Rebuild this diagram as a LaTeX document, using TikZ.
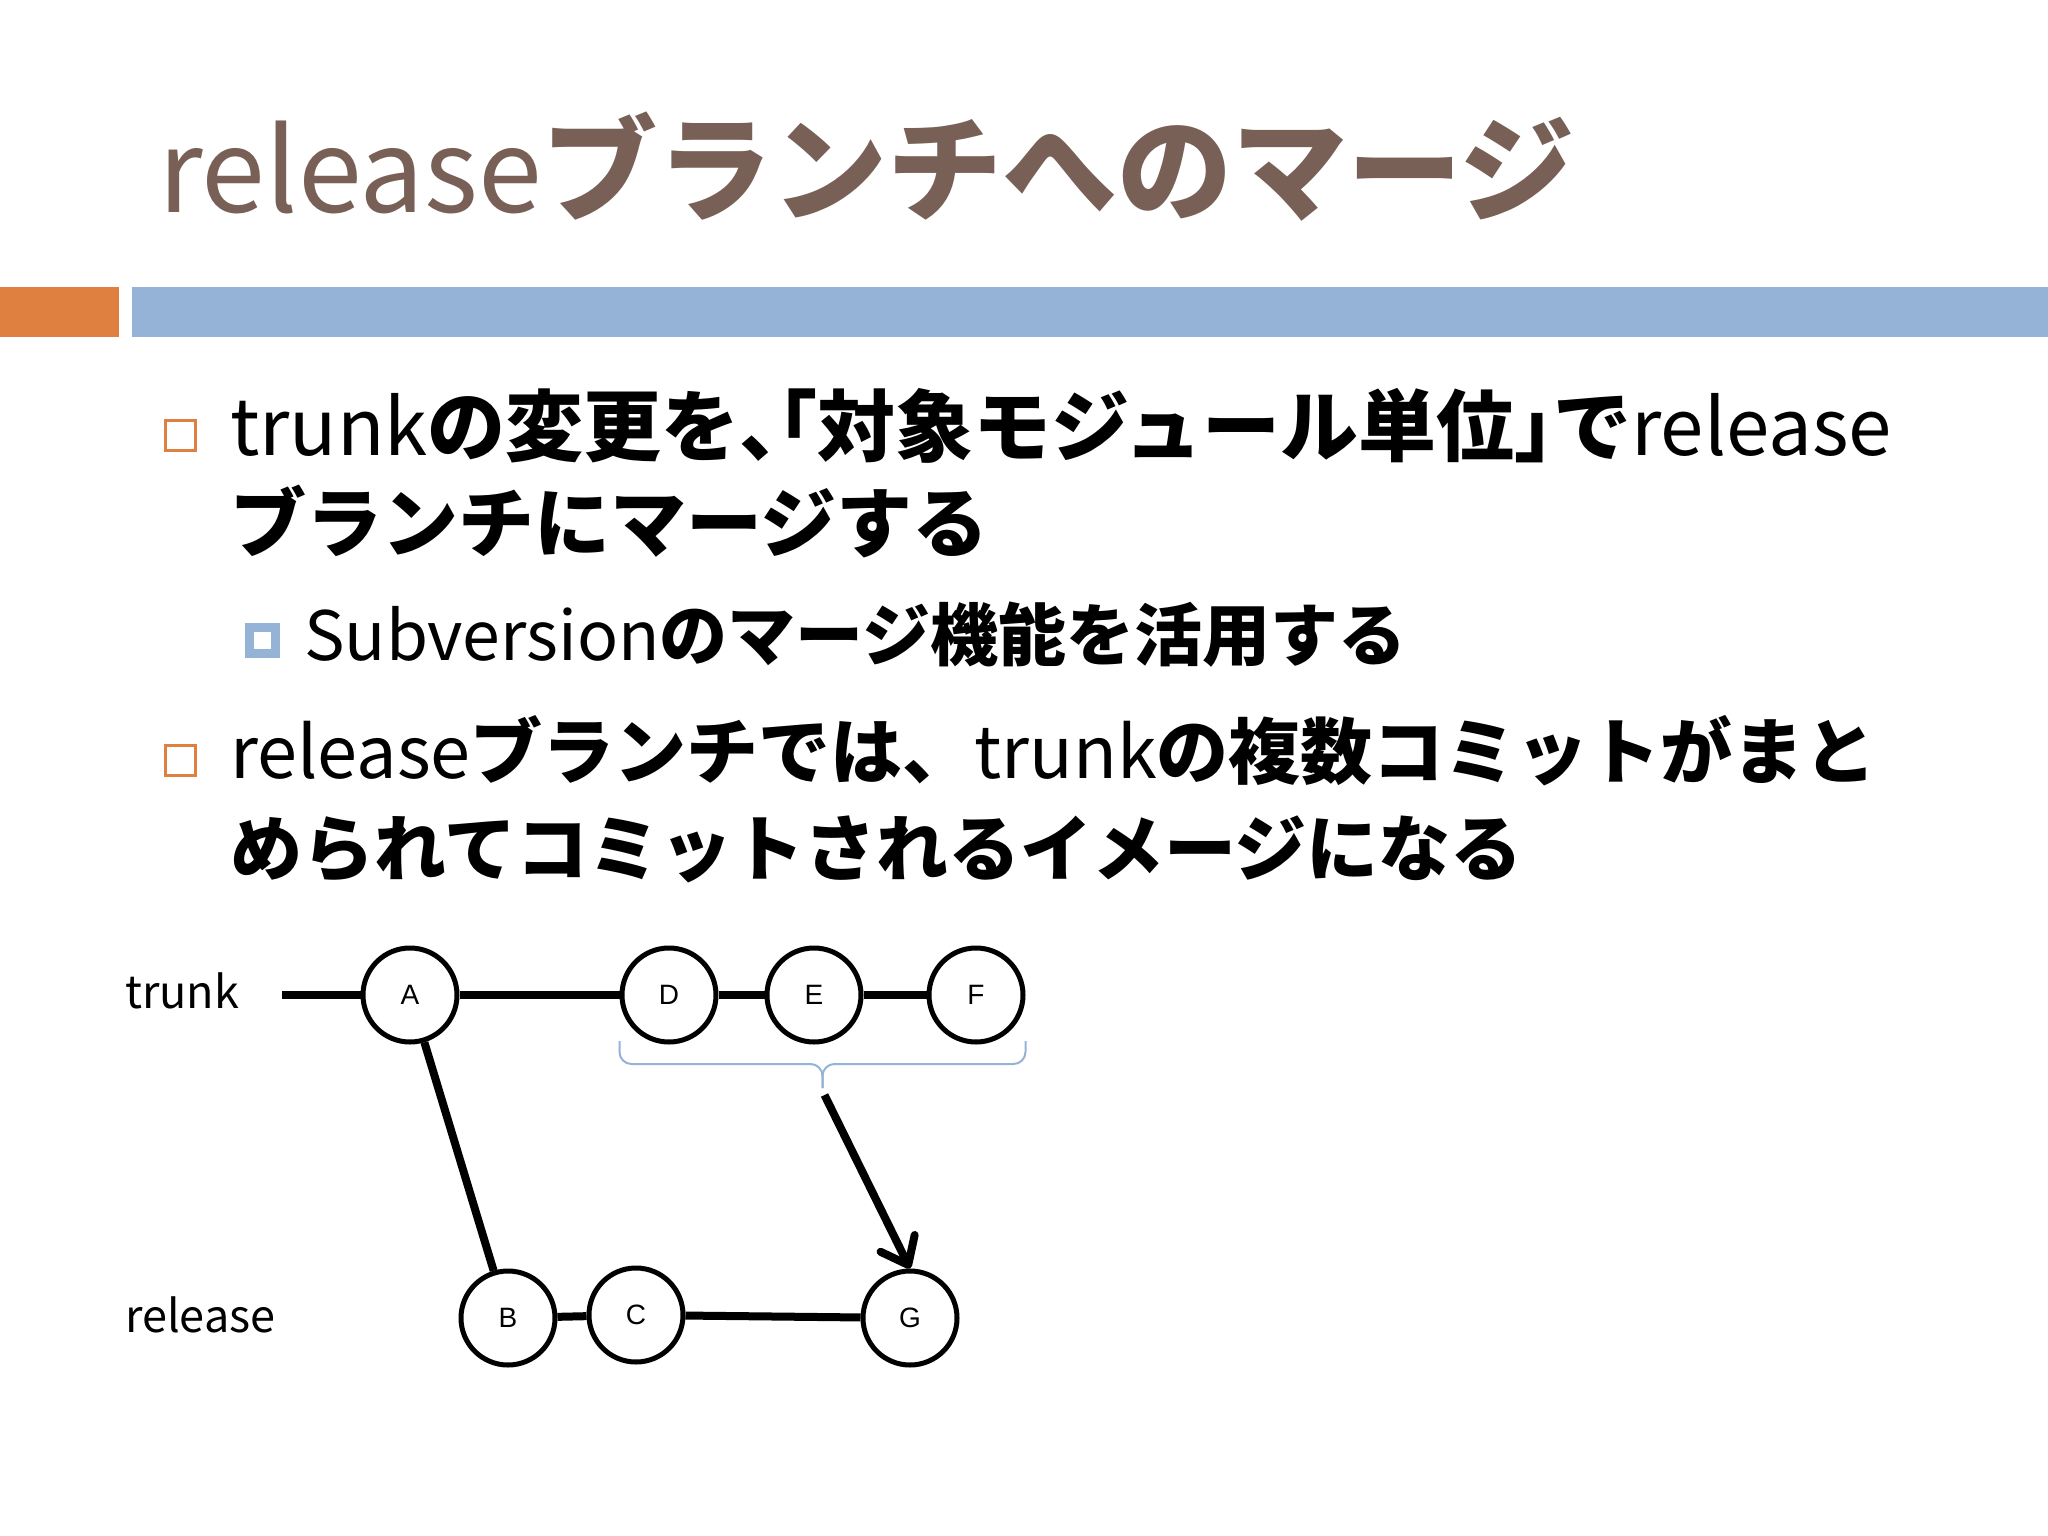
\documentclass[tikz,border=0pt]{standalone}
\usepackage{fontspec}
\setmainfont{Noto Sans CJK JP}[RawFeature=+halt]
\newfontfamily\helv{Liberation Sans}
\usetikzlibrary{arrows.meta,calc}
\definecolor{titlecol}{RGB}{120,96,86}
\definecolor{barorange}{RGB}{224,128,64}
\definecolor{barblue}{RGB}{149,179,215}
\begin{document}
\begin{tikzpicture}[x=1pt,y=-1pt,
  txtl/.style={anchor=base west, inner sep=0, font=\fontsize{78}{90}\selectfont},
  txta/.style={anchor=base west, inner sep=0, font=\fontsize{76}{90}\selectfont},
  txtb/.style={anchor=base west, inner sep=0, font=\fontsize{72}{86}\selectfont},
  subtxt/.style={anchor=base west, inner sep=0, font=\fontsize{68}{80}\selectfont},
  lbl/.style={anchor=base west, inner sep=0, font=\fontsize{45}{52}\selectfont},
  obullet/.style={draw=barorange, line width=3, fill=white, minimum size=30, inner sep=0},
  bbullet/.style={draw=barblue, line width=9, fill=white, minimum size=26, inner sep=0},
  commit/.style={circle, draw=black, line width=5, fill=white, minimum size=94, inner sep=0, font=\helv\fontsize{28}{30}\selectfont},
  conn/.style={line width=8, draw=black},
  bracestyle/.style={draw=barblue, line width=2, rounded corners=12},
]
\useasboundingbox (0,0) rectangle (2048,1536);
\fill[white] (0,0) rectangle (2048,1536);
% bars
\fill[barorange] (0,287) rectangle (119,337);
\fill[barblue] (132,287) rectangle (2048,337);
% title
\node[anchor=base west, inner sep=0, text=titlecol, font=\fontsize{115}{130}\selectfont] (title) at (158,212) {release\textbf{ブランチへのマージ}};
% bullets
\node[obullet] (b1) at (180,435) {};
\node[txtl] (l1) at (230,455) {trunk\textbf{の変更を、「対象モジュール単位」で}release};
\node[txta] (l2) at (230,551) {\textbf{ブランチにマージする}};
\node[bbullet] (b2) at (262,640) {};
\node[subtxt] (s1) at (304,660) {Subversion\textbf{のマージ機能を活用する}};
\node[obullet] (b3) at (180,760) {};
\node[txtb] (l3) at (230,778) {release\textbf{ブランチでは{\addfontfeature{RawFeature=-halt}、}}trunk\textbf{の複数コミットがまと}};
\node[txtb] (l4) at (230,875) {\textbf{められてコミットされるイメージになる}};
% diagram labels
\node[lbl] (trunklbl) at (125,1008) {trunk};
\node[lbl] (rellbl) at (125,1332) {release};
% commits
\node[commit] (A) at (410,995) {A};
\node[commit] (D) at (669,995) {D};
\node[commit] (E) at (814,995) {E};
\node[commit] (F) at (976,995) {F};
\node[commit] (B) at (508,1318) {B};
\node[commit] (C) at (636,1315) {C};
\node[commit] (G) at (910,1318) {G};
\coordinate (t0) at (282,995);
% connectors
\draw[conn] (t0) -- (A);
\draw[conn] (A) -- (D);
\draw[conn] (D) -- (E);
\draw[conn] (E) -- (F);
\draw[conn] (A) -- (B);
\draw[conn] (B) -- (C);
\draw[conn] (C) -- (G);
% brace
\coordinate (bl) at ($(D.west)+(0,46)$);
\coordinate (br) at ($(F.east)+(0,46)$);
\coordinate (hl) at ($(D.west)+(0,69)$);
\coordinate (hr) at ($(F.east)+(0,69)$);
\coordinate (hm) at ($(hl)!0.5!(hr)$);
\coordinate (tip) at ($(hm)+(0,24)$);
\draw[bracestyle] (bl) -- (hl) -- (hm) -- (tip);
\draw[bracestyle] (br) -- (hr) -- (hm) -- (tip);
\coordinate (m0) at ($(tip)+(2,7)$);
\draw[conn, -{Straight Barb[length=24,width=38,round]}] (m0) -- (G.north);
\end{tikzpicture}
\end{document}
